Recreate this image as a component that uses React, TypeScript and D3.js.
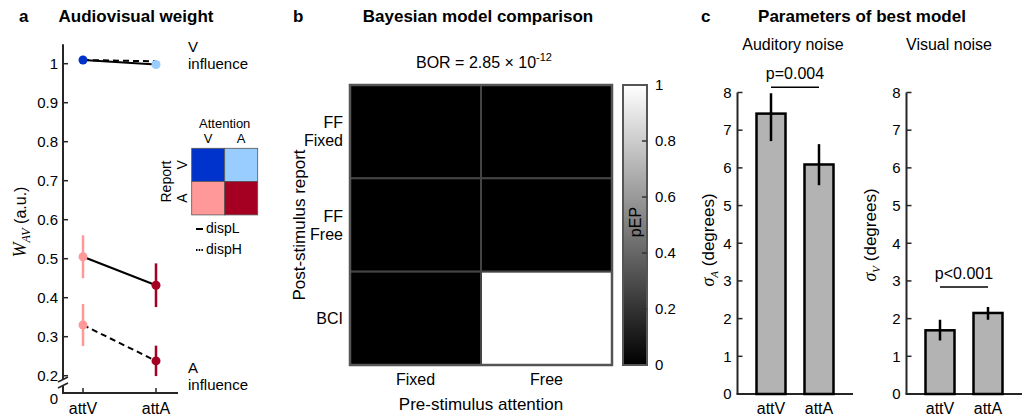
import React from "react";
import * as d3 from "d3";

// ---- panel a: audiovisual weight ----
const conditions = ["attV", "attA"];
const vInfDispL = [1.0095, 0.998];
const vInfDispH = [1.0095, 1.006];
const aInfDispL = [0.505, 0.432];
const aInfDispLErr = [0.055, 0.056];
const aInfDispH = [0.33, 0.238];
const aInfDispHErr = [0.054, 0.039];
const vColors = ["#0033cc", "#99ccff"];
const aColors = ["#ff9999", "#a50021"];
const weightTicks = [0.2, 0.3, 0.4, 0.5, 0.6, 0.7, 0.8, 0.9, 1];

// ---- panel b: model comparison ----
const modelRows = [["FF", "Fixed"], ["FF", "Free"], ["BCI"]];
const attentionCols = ["Fixed", "Free"];
const pEP = [
  [0, 0],
  [0, 0],
  [0, 1],
];
const cbarTicks = [0, 0.2, 0.4, 0.6, 0.8, 1];

// ---- panel c: parameters ----
const audMean = [7.44, 6.09];
const audLow = [6.71, 5.54];
const audHigh = [7.98, 6.63];
const visMean = [1.69, 2.15];
const visLow = [1.42, 1.97];
const visHigh = [1.97, 2.31];
const noiseTicks = [0, 1, 2, 3, 4, 5, 6, 7, 8];

const FONT = "'Liberation Sans', Arial, sans-serif";
const SERIF = "'Liberation Serif', 'DejaVu Serif', serif";
const AX = "#262626";

function PanelA() {
  const x = d3.scalePoint<string>().domain(conditions).range([83, 156]);
  const y = d3.scaleLinear().domain([0.2, 1.05]).range([375.7, 44.2]);
  const axX = 63;
  const axY = 393;
  const line = d3
    .line<number>()
    .x((_, i) => x(conditions[i])!)
    .y((d) => y(d));

  return (
    <g>
      <text x={19} y={22} fontSize={17} fontWeight="bold">a</text>
      <text x={136} y={22} fontSize={17} fontWeight="bold" textAnchor="middle">Audiovisual weight</text>

      {/* y axis with break */}
      <line x1={axX} x2={axX} y1={y(1.05)} y2={379} stroke={AX} strokeWidth={2} />
      <line x1={axX} x2={axX} y1={386} y2={axY} stroke={AX} strokeWidth={2} />
      <line x1={58} x2={68} y1={382} y2={377} stroke={AX} strokeWidth={1.6} />
      <line x1={58} x2={68} y1={388} y2={383} stroke={AX} strokeWidth={1.6} />
      <line x1={axX - 1} x2={178} y1={axY} y2={axY} stroke={AX} strokeWidth={2} />
      {weightTicks.map((t) => (
        <g key={t}>
          <line x1={axX} x2={axX + 5} y1={y(t)} y2={y(t)} stroke={AX} strokeWidth={1.5} />
          <text x={axX - 5} y={y(t)} dy="0.35em" fontSize={15} textAnchor="end">
            {t === 1 ? "1" : t.toFixed(1)}
          </text>
        </g>
      ))}
      <text x={axX - 5} y={399} dy="0.35em" fontSize={15} textAnchor="end">0</text>
      {conditions.map((c) => (
        <g key={c}>
          <line x1={x(c)} x2={x(c)} y1={axY} y2={axY - 5} stroke={AX} strokeWidth={1.5} />
          <text x={x(c)} y={414} fontSize={16} textAnchor="middle">{c}</text>
        </g>
      ))}
      <text transform={`translate(26,222) rotate(-90)`} fontSize={16} textAnchor="middle">
        <tspan fontFamily={SERIF} fontStyle="italic" fontSize={18}>W</tspan>
        <tspan fontFamily={SERIF} fontStyle="italic" fontSize={12} dy={4}>AV</tspan>
        <tspan dy={-4}> (a.u.)</tspan>
      </text>

      {/* lines */}
      <path d={line(vInfDispH)!} fill="none" stroke="#000" strokeWidth={2} strokeDasharray="6,4" />
      <path d={line(vInfDispL)!} fill="none" stroke="#000" strokeWidth={2} />
      <path d={line(aInfDispL)!} fill="none" stroke="#000" strokeWidth={2} />
      <path d={line(aInfDispH)!} fill="none" stroke="#000" strokeWidth={2} strokeDasharray="6,4" />

      {/* error bars and points */}
      {[
        { m: aInfDispL, e: aInfDispLErr },
        { m: aInfDispH, e: aInfDispHErr },
      ].map((s, si) =>
        s.m.map((v, i) => (
          <g key={`${si}-${i}`}>
            <line
              x1={x(conditions[i])}
              x2={x(conditions[i])}
              y1={y(v - s.e[i])}
              y2={y(v + s.e[i])}
              stroke={aColors[i]}
              strokeWidth={2.5}
            />
            <circle cx={x(conditions[i])} cy={y(v)} r={4.5} fill={aColors[i]} />
          </g>
        ))
      )}
      {vInfDispL.map((v, i) => (
        <circle key={i} cx={x(conditions[i])} cy={y(v)} r={4.5} fill={vColors[i]} />
      ))}

      <text x={188} y={52} fontSize={15}>V</text>
      <text x={188} y={69} fontSize={15}>influence</text>
      <text x={188} y={373} fontSize={15}>A</text>
      <text x={188} y={390} fontSize={15}>influence</text>

      {/* inset colour key */}
      <text x={224.7} y={128} fontSize={13} textAnchor="middle">Attention</text>
      <text x={208} y={143} fontSize={13} textAnchor="middle">V</text>
      <text x={241} y={143} fontSize={13} textAnchor="middle">A</text>
      <text transform="translate(171,181.5) rotate(-90)" fontSize={14} textAnchor="middle">Report</text>
      <text transform="translate(187,164.8) rotate(-90)" fontSize={14} textAnchor="middle">V</text>
      <text transform="translate(187,198) rotate(-90)" fontSize={14} textAnchor="middle">A</text>
      {[
        [vColors[0], vColors[1]],
        [aColors[0], aColors[1]],
      ].map((row, r) =>
        row.map((col, c) => (
          <rect
            key={`${r}-${c}`}
            x={191.7 + c * 33}
            y={148.3 + r * 33.3}
            width={33}
            height={33.3}
            fill={col}
            stroke="#555"
            strokeWidth={0.8}
          />
        ))
      )}
      <line x1={196} x2={203} y1={229} y2={229} stroke="#000" strokeWidth={2} />
      <text x={206} y={233} fontSize={14}>dispL</text>
      <line x1={196} x2={203} y1={250} y2={250} stroke="#000" strokeWidth={2} strokeDasharray="1.5,1.2" />
      <text x={206} y={254} fontSize={14}>dispH</text>
    </g>
  );
}

function PanelB() {
  const x = d3.scaleBand<number>().domain([0, 1]).range([350, 612]);
  const y = d3.scaleBand<number>().domain([0, 1, 2]).range([85, 365]);
  const gray = d3.scaleLinear<string>().domain([0, 1]).range(["#000", "#fff"]);
  const cy = d3.scaleLinear().domain([0, 1]).range([365, 85]);

  return (
    <g>
      <defs>
        <linearGradient id="cbar" x1="0" y1="1" x2="0" y2="0">
          <stop offset="0" stopColor="#000" />
          <stop offset="1" stopColor="#fff" />
        </linearGradient>
      </defs>
      <text x={293} y={22} fontSize={17} fontWeight="bold">b</text>
      <text x={478} y={22} fontSize={17} fontWeight="bold" textAnchor="middle">Bayesian model comparison</text>
      <text x={484} y={68} fontSize={16} textAnchor="middle">
        BOR = 2.85 × 10<tspan fontSize={11} dy={-7}>-12</tspan>
      </text>

      {pEP.map((row, r) =>
        row.map((v, c) => (
          <rect
            key={`${r}-${c}`}
            x={x(c)}
            y={y(r)}
            width={x.bandwidth()}
            height={y.bandwidth()}
            fill={gray(v)}
            stroke="#444"
            strokeWidth={2}
          />
        ))
      )}
      <rect x={350} y={85} width={262} height={280} fill="none" stroke="#555" strokeWidth={2.5} />

      {modelRows.map((lines, r) =>
        lines.map((t, k) => (
          <text
            key={`${r}-${k}`}
            x={343}
            y={y(r)! + y.bandwidth() / 2 + (k - (lines.length - 1) / 2) * 18}
            dy="0.35em"
            fontSize={16}
            textAnchor="end"
          >
            {t}
          </text>
        ))
      )}
      {attentionCols.map((t, c) => (
        <text key={t} x={x(c)! + x.bandwidth() / 2} y={385} fontSize={16} textAnchor="middle">
          {t}
        </text>
      ))}
      <text x={481} y={410} fontSize={17} textAnchor="middle">Pre-stimulus attention</text>
      <text transform="translate(305,225) rotate(-90)" fontSize={17} textAnchor="middle">
        Post-stimulus report
      </text>

      {/* colorbar */}
      <rect x={623} y={85} width={24} height={280} fill="url(#cbar)" stroke="#555" strokeWidth={2} />
      {cbarTicks.map((t) => (
        <g key={t}>
          {t > 0 && t < 1 && (
            <line x1={642} x2={647} y1={cy(t)} y2={cy(t)} stroke="#333" strokeWidth={1.5} />
          )}
          <text x={655} y={cy(t)} dy="0.35em" fontSize={15}>
            {t === 0 || t === 1 ? String(t) : t.toFixed(1)}
          </text>
        </g>
      ))}
      <text transform="translate(641,222) rotate(-90)" fontSize={16} textAnchor="middle">pEP</text>
    </g>
  );
}

function BarPanel({
  axX,
  axEnd,
  centers,
  mean,
  low,
  high,
  sub,
  labelX,
  labelY,
  title,
  titleX,
  pText,
}: {
  axX: number;
  axEnd: number;
  centers: [number, number];
  mean: number[];
  low: number[];
  high: number[];
  sub: string;
  labelX: number;
  labelY: number;
  title: string;
  titleX: number;
  pText: string;
}) {
  const x = d3.scalePoint<string>().domain(conditions).range(centers);
  const y = d3.scaleLinear().domain([0, 8]).range([394, 92.5]);
  const bw = 29;
  const sigY = y(d3.max(high)!) - (pText === "p=0.004" ? 6 : 20);

  return (
    <g>
      <text x={titleX} y={50} fontSize={16} textAnchor="middle">{title}</text>
      <line x1={axX} x2={axX} y1={y(8)} y2={y(0)} stroke={AX} strokeWidth={2} />
      <line x1={axX - 1} x2={axEnd} y1={y(0)} y2={y(0)} stroke={AX} strokeWidth={2} />
      {noiseTicks.map((t) => (
        <g key={t}>
          <line x1={axX} x2={axX + 5} y1={y(t)} y2={y(t)} stroke={AX} strokeWidth={1.5} />
          <text x={axX - 6} y={y(t)} dy="0.35em" fontSize={15} textAnchor="end">{t}</text>
        </g>
      ))}
      {conditions.map((c, i) => (
        <g key={c}>
          <rect
            x={x(c)! - bw / 2}
            y={y(mean[i])}
            width={bw}
            height={y(0) - y(mean[i])}
            fill="#b3b3b3"
            stroke="#000"
            strokeWidth={2.5}
          />
          <line x1={x(c)} x2={x(c)} y1={y(low[i])} y2={y(high[i])} stroke="#000" strokeWidth={2.5} />
          <text x={x(c)} y={414} fontSize={16} textAnchor="middle">{c}</text>
        </g>
      ))}
      <line x1={centers[0]} x2={centers[1]} y1={sigY} y2={sigY} stroke="#000" strokeWidth={1.5} />
      <text x={(centers[0] + centers[1]) / 2} y={sigY - 8} fontSize={16} textAnchor="middle">{pText}</text>
      <text transform={`translate(${labelX},${labelY}) rotate(-90)`} fontSize={17} textAnchor="middle">
        <tspan fontFamily={SERIF} fontStyle="italic" fontSize={18}>σ</tspan>
        <tspan fontFamily={SERIF} fontStyle="italic" fontSize={11} dy={4}>{sub}</tspan>
        <tspan dy={-4}> (degrees)</tspan>
      </text>
    </g>
  );
}

export default function App() {
  return (
    <svg width={1029} height={419} style={{ position: "absolute", left: 0, top: 0, background: "#fff" }} fontFamily={FONT}>
      <rect width={1029} height={419} fill="#fff" />
      <PanelA />
      <PanelB />
      <text x={701} y={22} fontSize={17} fontWeight="bold">c</text>
      <text x={862} y={22} fontSize={17} fontWeight="bold" textAnchor="middle">Parameters of best model</text>
      <BarPanel
        axX={737.5}
        axEnd={853}
        centers={[771, 819]}
        mean={audMean}
        low={audLow}
        high={audHigh}
        sub="A"
        labelX={714}
        labelY={240}
        title="Auditory noise"
        titleX={793}
        pText="p=0.004"
      />
      <BarPanel
        axX={906.5}
        axEnd={1022}
        centers={[940, 988]}
        mean={visMean}
        low={visLow}
        high={visHigh}
        sub="V"
        labelX={876}
        labelY={235}
        title="Visual noise"
        titleX={949}
        pText="p<0.001"
      />
    </svg>
  );
}
